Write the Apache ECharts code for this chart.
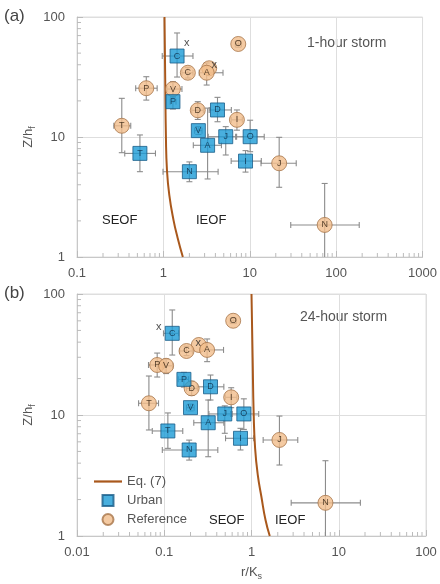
<!DOCTYPE html>
<html><head><meta charset="utf-8">
<script src="https://cdn.jsdelivr.net/npm/echarts@6/dist/echarts.min.js"></script>
<style>html,body{margin:0;padding:0;background:#fff}#c{width:440px;height:584px}</style>
</head><body><div id="c"></div>
<script>
// Each record: [label, r/Ks, Z/hf, xLow, xHigh, yLow, yHigh]
// Panel (a) 1-hour storm
const urbanA = [
  ['C',1.44,47.3,0.97,2.2,31.6,73.6],
  ['P',1.29,19.7,1.2,1.4,17.1,21.5],
  ['D',4.23,16.8,3.39,6.12,13.4,21.4],
  ['V',2.54,11.3,2.3,2.8,10.5,12.2],
  ['J',5.27,10.06,3.3,6.86,7.08,12.2],
  ['O',10.1,10.06,7.04,14.7,7.54,13.8],
  ['A',3.25,8.53,2.22,4.7,4.47,17.4],
  ['I',8.93,6.3,6.09,13.6,5.1,7.7],
  ['N',2.0,5.14,0.99,4.3,4.24,6.2],
  ['T',0.535,7.3,0.357,0.81,5.14,10.4]
];
const refA = [
  ['',3.39,37.4,3.39,3.39,37.4,37.4],
  ['O',7.36,59.6,6.8,8.0,56,63],
  ['C',1.92,34.3,1.64,2.2,31,38],
  ['A',3.17,34.3,2.6,4.9,27.1,41.4],
  ['V',1.29,25.1,1.1,1.64,22,28.9],
  ['P',0.634,25.5,0.478,0.847,20.3,31.8],
  ['D',2.5,16.7,2.13,2.9,14.0,19.7],
  ['I',7.1,13.9,6.1,8.2,11.4,16.8],
  ['T',0.33,12.4,0.267,0.419,7.4,21],
  ['J',21.9,6.04,13.5,34.5,3.81,9.94],
  ['N',73.6,1.85,29.8,185,1,4.1]
];
const marksA = [[1.87,60.4],[3.87,39.8]];
const curveA = [[1.03,100],[1.05,30],[1.07,10],[1.1,5.3],[1.17,3.3],[1.31,2.03],[1.46,1.45],[1.68,1]];

// Panel (b) 24-hour storm
const urbanB = [
  ['C',0.1235,47.3,0.098,0.146,31.3,73.8],
  ['P',0.168,19.7,0.145,0.19,17,22.5],
  ['D',0.339,17.1,0.239,0.482,13.3,21.4],
  ['V',0.2,11.5,0.18,0.22,10.8,12.3],
  ['J',0.494,10.2,0.325,0.575,7.06,11.9],
  ['O',0.817,10.2,0.6,1.21,7.6,13.6],
  ['A',0.319,8.63,0.218,0.482,4.52,13.3],
  ['I',0.748,6.42,0.504,1.06,5.14,7.76],
  ['N',0.193,5.14,0.095,0.411,4.24,6.2],
  ['T',0.11,7.38,0.0729,0.163,5.3,10.4]
];
const refB = [
  ['',0.249,37.9,0.249,0.249,37.9,37.9],
  ['O',0.617,60.1,0.57,0.67,57,63],
  ['C',0.18,33.8,0.15,0.21,31,37],
  ['A',0.31,34.5,0.26,0.478,27.6,42.5],
  ['P',0.083,25.9,0.066,0.1,20.6,32.5],
  ['V',0.105,25.5,0.095,0.125,22,29],
  ['D',0.206,16.6,0.18,0.24,14.5,19],
  ['I',0.585,14.0,0.5,0.68,11.5,16.8],
  ['T',0.0667,12.5,0.0508,0.086,7.52,21],
  ['J',2.09,6.22,1.36,3.39,3.86,9.8],
  ['N',7.04,1.88,2.85,17.7,1,4.19]
];
const marksB = [[0.0866,53.7],[0.245,39.1]];
const curveB = [[1.0,100],[1.03,30],[1.06,10],[1.1,5.3],[1.18,3.2],[1.3,2.1],[1.45,1.35],[1.62,1]];

// axis tick values
const minorXA = [0.2,0.3,0.4,0.5,0.6,0.7,0.8,0.9,2,3,4,5,6,7,8,9,20,30,40,50,60,70,80,90,200,300,400,500,600,700,800,900];
const minorXB = [0.02,0.03,0.04,0.05,0.06,0.07,0.08,0.09,0.2,0.3,0.4,0.5,0.6,0.7,0.8,0.9,2,3,4,5,6,7,8,9,20,30,40,50,60,70,80,90];
const minorY = [2,3,4,5,6,7,8,9,20,30,40,50,60,70,80,90];

const chart = echarts.init(document.getElementById('c'));
const GRAY = '#8c8c8c';
const labelColor = '#555';

function errRender(params, api){
  const x=api.value(0), y=api.value(1);
  const xl=api.value(2), xh=api.value(3), yl=api.value(4), yh=api.value(5);
  const c=api.coord([x,y]);
  const pxl=api.coord([xl,y])[0], pxh=api.coord([xh,y])[0];
  const pyl=api.coord([x,yl])[1], pyh=api.coord([x,yh])[1];
  const st={stroke:GRAY,lineWidth:1.1};
  const k=3, ch=[];
  const L=(x1,y1,x2,y2)=>ch.push({type:'line',shape:{x1,y1,x2,y2},style:st});
  if (pxh-pxl>1){ L(pxl,c[1],pxh,c[1]); L(pxl,c[1]-k,pxl,c[1]+k); L(pxh,c[1]-k,pxh,c[1]+k); }
  if (pyl-pyh>1){ L(c[0],pyl,c[0],pyh); L(c[0]-k,pyh,c[0]+k,pyh); if (yl>1.0001) L(c[0]-k,pyl,c[0]+k,pyl); }
  return {type:'group',children:ch};
}
function tickRenderX(params, api){
  const p=api.coord([api.value(0),api.value(1)]);
  return {type:'line',shape:{x1:p[0],y1:p[1],x2:p[0],y2:p[1]-4},style:{stroke:'#bbb',lineWidth:1}};
}
function tickRenderY(params, api){
  const p=api.coord([api.value(0),api.value(1)]);
  return {type:'line',shape:{x1:p[0],y1:p[1],x2:p[0]+4,y2:p[1]},style:{stroke:'#bbb',lineWidth:1}};
}

function panelSeries(i, urban, ref, marks, curve, minorX, xmin){
  const errData = urban.concat(ref).map(r=>r.slice(1));
  return [
    {type:'custom', xAxisIndex:i, yAxisIndex:i, renderItem:errRender, data:errData, z:2, silent:true,
      encode:{x:0,y:1}},
    {type:'custom', xAxisIndex:i, yAxisIndex:i, renderItem:tickRenderX, data:minorX.map(v=>[v,1]), z:1, silent:true},
    {type:'custom', xAxisIndex:i, yAxisIndex:i, renderItem:tickRenderY, data:minorY.map(v=>[xmin,v]), z:1, silent:true},
    {name:'Eq. (7)', type:'line', xAxisIndex:i, yAxisIndex:i, data:curve, smooth:true, symbol:'none',
      lineStyle:{color:'#a9581c',width:2}, itemStyle:{color:'#a9581c'}, z:3},
    {name:'Reference', type:'scatter', xAxisIndex:i, yAxisIndex:i, symbol:'circle', symbolSize:15,
      itemStyle:{color:'#f1bd8b',borderColor:'#a8764a',borderWidth:1}, z:4,
      label:{show:true,position:'inside',formatter:'{b}',fontSize:9,color:'#2a1a0a',fontFamily:'Liberation Sans'},
      data:ref.map(r=>({name:r[0],value:[r[1],r[2]]}))},
    {name:'Urban', type:'scatter', xAxisIndex:i, yAxisIndex:i, symbol:'rect', symbolSize:14,
      itemStyle:{color:'#1c9bd6',borderColor:'#195d88',borderWidth:1}, z:5,
      label:{show:true,position:'inside',formatter:'{b}',fontSize:9,color:'#0b2b45',fontFamily:'Liberation Sans'},
      data:urban.map(r=>({name:r[0],value:[r[1],r[2]]}))},
    {type:'scatter', xAxisIndex:i, yAxisIndex:i, symbolSize:0, z:6, silent:true,
      label:{show:true,position:'inside',formatter:'x',fontSize:11,color:'#222',fontFamily:'Liberation Sans'},
      data:marks}
  ];
}

const axisCommonX = (min,max,gi,showName)=>({
  type:'log', logBase:10, min, max, gridIndex:gi,
  axisLine:{show:true,lineStyle:{color:'#c8c8c8'}},
  axisTick:{show:true,inside:true,length:6,lineStyle:{color:'#bbb'}},
  axisLabel:{color:labelColor,fontSize:13,margin:10,fontFamily:'Liberation Sans',formatter:v=>String(+v.toPrecision(6))},
  splitLine:{show:true,lineStyle:{color:'#dedede'}},
  name: showName ? 'r/K{s|s}' : '', nameLocation:'middle', nameGap:28,
  nameTextStyle:{color:labelColor,fontSize:13,fontFamily:'Liberation Sans',rich:{s:{fontSize:9,verticalAlign:'bottom',padding:[8,0,0,0],color:labelColor}}}
});
const axisCommonY = (gi)=>({
  type:'log', logBase:10, min:1, max:100, gridIndex:gi,
  axisLine:{show:true,lineStyle:{color:'#c8c8c8'}},
  axisTick:{show:true,inside:true,length:6,lineStyle:{color:'#bbb'}},
  axisLabel:{color:labelColor,fontSize:13,margin:12,fontFamily:'Liberation Sans'},
  splitLine:{show:true,lineStyle:{color:'#dedede'}},
  name:'Z/h{s|f}', nameLocation:'middle', nameGap:40, nameRotate:90, nameMoveOverlap:false,
  nameTextStyle:{color:labelColor,fontSize:13,fontFamily:'Liberation Sans',rich:{s:{fontSize:9,padding:[8,0,0,0],color:labelColor}}}
});

const txt = (left,top,text,size,color)=>({type:'text',left,top,style:{text,fontSize:size,fill:color,fontFamily:'Liberation Sans'}});

chart.setOption({
  animation:false,
  backgroundColor:'#fff',
  grid:[
    {left:77,top:17,width:349,height:240,show:true,borderColor:'#dedede',borderWidth:1},
    {left:77,top:294,width:349,height:242,show:true,borderColor:'#dedede',borderWidth:1}
  ],
  xAxis:[axisCommonX(0.1,1000,0,false), axisCommonX(0.01,100,1,true)],
  yAxis:[axisCommonY(0), axisCommonY(1)],
  legend:{
    orient:'vertical', left:89, top:470, itemWidth:28, itemHeight:11, itemGap:6,
    symbolKeepAspect:true,
    textStyle:{color:'#555',fontSize:13,fontFamily:'Liberation Sans'},
    data:[
      {name:'Eq. (7)',icon:'path://M0,0h28v2.2h-28z'},
      {name:'Urban',icon:'path://M0,0h10v10h-10z'},
      {name:'Reference',icon:'path://M5,0A5,5,0,1,1,5,10A5,5,0,1,1,5,0z'}
    ]
  },
  graphic:[
    txt(4,8,'(a)',17,'#444'),
    txt(4,285,'(b)',17,'#444'),
    txt(307,36,'1-hour storm',14,'#555'),
    txt(300,310,'24-hour storm',14,'#555'),
    txt(102,214,'SEOF',13,'#222'),
    txt(196,214,'IEOF',13,'#222'),
    txt(209,514,'SEOF',13,'#222'),
    txt(275,514,'IEOF',13,'#222')
  ],
  series:[].concat(
    panelSeries(0,urbanA,refA,marksA,curveA,minorXA,0.1),
    panelSeries(1,urbanB,refB,marksB,curveB,minorXB,0.01)
  )
});
</script></body></html>
